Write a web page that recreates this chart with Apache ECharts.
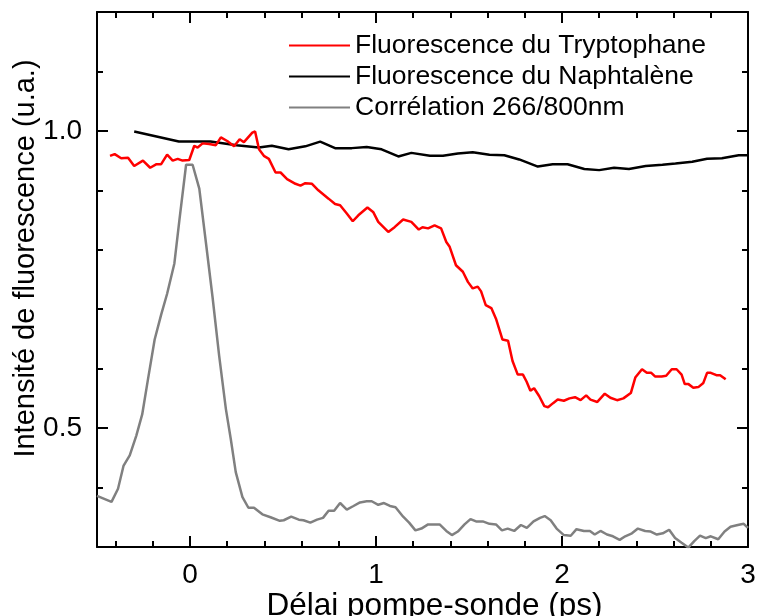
<!DOCTYPE html>
<html>
<head>
<meta charset="utf-8">
<script src="https://cdn.jsdelivr.net/npm/echarts@6/dist/echarts.min.js"></script>
<style>
html,body{margin:0;padding:0;background:#fff;}
#chart{width:758px;height:616px;}
</style>
</head>
<body>
<div id="chart"></div>
<script>
// ---- data ----
const seriesNames = ['Fluorescence du Tryptophane', 'Fluorescence du Naphtalène', 'Corrélation 266/800nm'];
const xAxisTitle = 'Délai pompe-sonde (ps)';
const yAxisTitle = 'Intensité de fluorescence (u.a.)';
const xTickLabels = [0, 1, 2, 3];
const yTickLabels = [0.5, 1.0];

const tryptophane = [
[-0.43,0.958],[-0.405,0.961],[-0.37,0.954],[-0.333,0.955],[-0.30,0.941],[-0.253,0.950],[-0.214,0.938],[-0.18,0.944],[-0.155,0.944],[-0.123,0.960],[-0.093,0.950],[-0.066,0.953],[-0.04,0.950],[-0.004,0.951],[0.023,0.975],[0.041,0.972],[0.068,0.979],[0.103,0.978],[0.139,0.976],[0.166,0.989],[0.20,0.983],[0.237,0.974],[0.267,0.986],[0.29,0.981],[0.335,0.997],[0.35,0.999],[0.371,0.969],[0.397,0.958],[0.424,0.953],[0.46,0.930],[0.487,0.930],[0.522,0.919],[0.567,0.911],[0.594,0.908],[0.62,0.912],[0.656,0.911],[0.69,0.900],[0.745,0.886],[0.78,0.877],[0.807,0.875],[0.843,0.861],[0.875,0.848],[0.905,0.858],[0.954,0.871],[0.986,0.863],[1.012,0.847],[1.066,0.830],[1.10,0.838],[1.146,0.851],[1.19,0.847],[1.23,0.834],[1.25,0.838],[1.28,0.836],[1.315,0.841],[1.35,0.836],[1.378,0.813],[1.396,0.805],[1.43,0.774],[1.467,0.763],[1.494,0.746],[1.52,0.735],[1.547,0.738],[1.565,0.730],[1.59,0.707],[1.62,0.702],[1.645,0.684],[1.68,0.649],[1.71,0.647],[1.734,0.613],[1.762,0.590],[1.79,0.590],[1.81,0.578],[1.83,0.563],[1.85,0.567],[1.877,0.554],[1.905,0.537],[1.925,0.535],[1.952,0.542],[1.977,0.548],[2.01,0.546],[2.04,0.550],[2.07,0.552],[2.10,0.547],[2.13,0.555],[2.153,0.548],[2.19,0.544],[2.23,0.558],[2.26,0.551],[2.296,0.547],[2.33,0.550],[2.37,0.559],[2.394,0.585],[2.43,0.599],[2.456,0.593],[2.48,0.593],[2.50,0.587],[2.536,0.587],[2.56,0.588],[2.59,0.599],[2.616,0.599],[2.643,0.590],[2.66,0.574],[2.68,0.574],[2.706,0.568],[2.733,0.569],[2.76,0.576],[2.78,0.593],[2.80,0.593],[2.83,0.589],[2.85,0.589],[2.857,0.587],[2.88,0.582]
];

const naphtalene = [
[-0.30,0.999],[-0.06,0.982],[0.11,0.982],[0.25,0.976],[0.37,0.972],[0.44,0.975],[0.53,0.969],[0.62,0.974],[0.70,0.982],[0.78,0.971],[0.87,0.971],[0.95,0.973],[1.03,0.969],[1.12,0.957],[1.19,0.963],[1.29,0.958],[1.36,0.958],[1.44,0.962],[1.52,0.964],[1.61,0.960],[1.69,0.959],[1.77,0.952],[1.87,0.940],[1.95,0.944],[2.03,0.944],[2.12,0.936],[2.20,0.934],[2.28,0.938],[2.36,0.936],[2.45,0.941],[2.54,0.943],[2.61,0.945],[2.70,0.948],[2.78,0.953],[2.86,0.954],[2.95,0.959],[3.0,0.959]
];

const correlation = [
[-0.5,0.386],[-0.422,0.376],[-0.387,0.398],[-0.357,0.437],[-0.324,0.454],[-0.289,0.487],[-0.257,0.523],[-0.226,0.582],[-0.19,0.649],[-0.155,0.691],[-0.123,0.726],[-0.084,0.777],[-0.057,0.850],[-0.021,0.943],[0.014,0.943],[0.05,0.903],[0.086,0.811],[0.121,0.721],[0.157,0.621],[0.193,0.532],[0.219,0.482],[0.246,0.426],[0.282,0.384],[0.314,0.366],[0.344,0.366],[0.389,0.355],[0.433,0.350],[0.483,0.344],[0.504,0.345],[0.544,0.351],[0.585,0.346],[0.61,0.345],[0.647,0.341],[0.683,0.346],[0.715,0.349],[0.745,0.361],[0.775,0.361],[0.807,0.374],[0.843,0.363],[0.879,0.369],[0.914,0.375],[0.95,0.377],[0.977,0.377],[1.012,0.371],[1.043,0.374],[1.075,0.369],[1.105,0.367],[1.146,0.351],[1.178,0.341],[1.212,0.328],[1.244,0.331],[1.28,0.338],[1.342,0.338],[1.378,0.327],[1.408,0.320],[1.44,0.326],[1.476,0.338],[1.508,0.347],[1.538,0.343],[1.574,0.343],[1.61,0.339],[1.645,0.338],[1.677,0.328],[1.708,0.331],[1.743,0.327],[1.779,0.337],[1.811,0.332],[1.847,0.343],[1.882,0.349],[1.907,0.352],[1.939,0.345],[1.971,0.331],[2.01,0.320],[2.047,0.319],[2.078,0.330],[2.118,0.327],[2.15,0.327],[2.176,0.321],[2.207,0.327],[2.242,0.321],[2.274,0.318],[2.31,0.312],[2.34,0.318],[2.376,0.323],[2.408,0.331],[2.447,0.327],[2.477,0.326],[2.51,0.321],[2.542,0.323],[2.576,0.329],[2.608,0.315],[2.643,0.307],[2.679,0.299],[2.711,0.310],[2.742,0.319],[2.773,0.315],[2.80,0.318],[2.84,0.313],[2.874,0.326],[2.906,0.334],[2.945,0.337],[2.977,0.339],[3.0,0.332]
];

const seriesColors = ['#ff0000', '#000000', '#808080'];

// ---- chart ----
const FONT = "'Liberation Sans', Arial, sans-serif";
const X_MIN = -0.5, X_MAX = 3, Y_MIN = 0.3, Y_MAX = 1.2;

function fmtX(v) {
  for (const t of xTickLabels) if (Math.abs(v - t) < 1e-6) return String(t);
  return '';
}
function fmtY(v) {
  for (const t of yTickLabels) if (Math.abs(v - t) < 1e-6) return t.toFixed(1);
  return '';
}

function xAxis(pos, step, len, opts) {
  return Object.assign({
    type: 'value', position: pos, min: X_MIN, max: X_MAX,
    minInterval: step, maxInterval: step, splitNumber: Math.round((X_MAX - X_MIN) / step),
    axisLine: { show: false, onZero: false },
    axisTick: { show: true, inside: true, length: len, lineStyle: { color: '#000', width: 2 } },
    axisLabel: { show: false },
    splitLine: { show: false }
  }, opts || {});
}
function yAxis(pos, step, len, opts) {
  return Object.assign({
    type: 'value', position: pos, min: Y_MIN, max: Y_MAX,
    minInterval: step, maxInterval: step, splitNumber: Math.round((Y_MAX - Y_MIN) / step),
    axisLine: { show: false, onZero: false },
    axisTick: { show: true, inside: true, length: len, lineStyle: { color: '#000', width: 2 } },
    axisLabel: { show: false },
    splitLine: { show: false }
  }, opts || {});
}
const frameLine = { show: true, onZero: false, lineStyle: { color: '#000', width: 2 } };

const chart = echarts.init(document.getElementById('chart'), null, { renderer: 'canvas' });
chart.setOption({
  animation: false,
  backgroundColor: '#fff',
  grid: { left: 97, right: 10, top: 12, bottom: 69, containLabel: false, outerBoundsMode: 'none' },
  legend: {
    orient: 'vertical', left: 289, top: 30, padding: 0,
    icon: 'rect', itemWidth: 61, itemHeight: 2, itemGap: 0,
    textStyle: { fontFamily: FONT, fontSize: 26.5, color: '#000', lineHeight: 31 },
    data: seriesNames
  },
  xAxis: [
    xAxis('bottom', 1, 11, {
      axisLine: frameLine,
      axisLabel: { show: true, margin: 14, fontFamily: FONT, fontSize: 28, color: '#000', formatter: fmtX, showMinLabel: false },
      name: xAxisTitle, nameLocation: 'middle', nameGap: 43, nameMoveOverlap: false,
      nameTextStyle: { fontFamily: FONT, fontSize: 31.5, color: '#000', padding: [0, 0, 0, 24] }
    }),
    xAxis('bottom', 0.2, 6),
    xAxis('top', 1, 11, { axisLine: frameLine }),
    xAxis('top', 0.2, 6)
  ],
  yAxis: [
    yAxis('left', 0.5, 11, {
      axisLine: frameLine,
      axisLabel: { show: true, margin: 15, fontFamily: FONT, fontSize: 28, color: '#000', formatter: fmtY, showMinLabel: false, showMaxLabel: false },
      name: yAxisTitle, nameLocation: 'middle', nameGap: 57, nameMoveOverlap: false,
      nameTextStyle: { fontFamily: FONT, fontSize: 29, color: '#000', padding: [0, 0, 0, 42] }
    }),
    yAxis('left', 0.1, 6),
    yAxis('right', 0.5, 11, { axisLine: frameLine }),
    yAxis('right', 0.1, 6)
  ],
  series: [
    { name: seriesNames[0], type: 'line', data: tryptophane, showSymbol: false, symbol: 'none',
      lineStyle: { color: seriesColors[0], width: 2.5 }, itemStyle: { color: seriesColors[0] }, xAxisIndex: 0, yAxisIndex: 0, z: 4 },
    { name: seriesNames[1], type: 'line', data: naphtalene, showSymbol: false, symbol: 'none',
      lineStyle: { color: seriesColors[1], width: 2.5 }, itemStyle: { color: seriesColors[1] }, xAxisIndex: 0, yAxisIndex: 0, z: 3 },
    { name: seriesNames[2], type: 'line', data: correlation, showSymbol: false, symbol: 'none',
      lineStyle: { color: seriesColors[2], width: 2.5 }, itemStyle: { color: seriesColors[2] }, xAxisIndex: 0, yAxisIndex: 0, z: 2 }
  ]
});
</script>
</body>
</html>
